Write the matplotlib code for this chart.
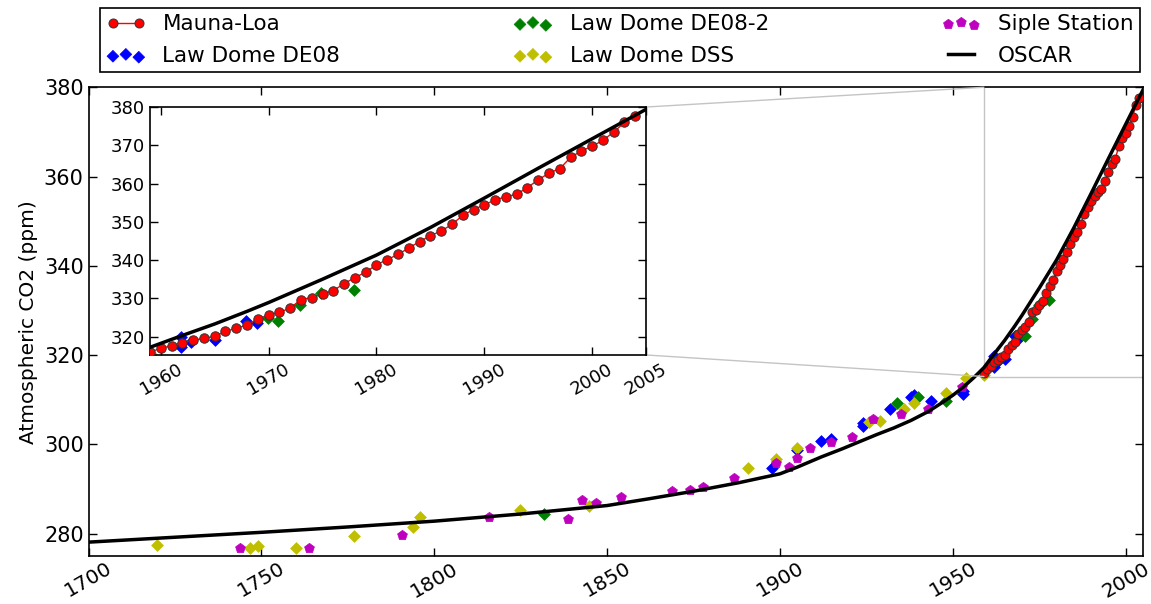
import matplotlib
matplotlib.use("Agg")
import matplotlib.pyplot as plt
from matplotlib.patches import ConnectionPatch
from matplotlib.lines import Line2D

# Mauna-Loa annual means
ml_years = list(range(1959, 2005))
ml_co2 = [315.97, 316.91, 317.64, 318.45, 318.99, 319.62, 320.04, 321.38, 322.16, 323.04,
          324.62, 325.68, 326.32, 327.46, 329.68, 330.19, 331.13, 332.03, 333.84, 335.41,
          336.84, 338.76, 340.12, 341.48, 343.15, 344.85, 346.35, 347.61, 349.31, 351.69,
          353.20, 354.45, 355.70, 356.54, 357.21, 358.96, 360.97, 362.74, 363.88, 366.84,
          368.54, 369.71, 371.32, 373.45, 375.98, 377.70]

# Law Dome DE08
de08_years = [1897.8, 1904.8, 1911.8, 1914.9, 1923.9, 1923.9, 1931.9, 1937.8, 1938.8, 1943.8,
              1953.0, 1953.0, 1961.9, 1961.9, 1962.8, 1965.0, 1967.9, 1968.9]
de08_co2 = [294.7, 298.7, 300.7, 301.3, 304.8, 304.1, 307.9, 310.6, 311.1, 309.7,
            311.2, 311.9, 319.8, 317.3, 318.5, 319.1, 324.2, 323.5]

# Law Dome DE08-2
de082_years = [1831.7, 1933.9, 1939.9, 1947.9, 1969.9, 1970.9, 1972.9, 1974.9, 1977.9]
de082_co2 = [284.5, 309.3, 310.6, 309.7, 324.8, 324.2, 328.2, 331.3, 332.3]

# Law Dome DSS
dss_years = [1719.8, 1746.8, 1749.0, 1759.9, 1776.9, 1793.8, 1795.8, 1824.9, 1844.9, 1890.8,
             1898.9, 1904.8, 1925.8, 1928.9, 1935.8, 1938.8, 1947.9, 1953.8, 1959.1]
dss_co2 = [277.5, 276.9, 277.3, 276.8, 279.5, 281.6, 283.7, 285.2, 286.1, 294.8,
           296.7, 299.1, 305.0, 305.2, 308.0, 309.3, 311.5, 314.8, 315.5]

# Siple Station
siple_years = [1743.9, 1763.7, 1790.8, 1815.8, 1838.7, 1842.8, 1846.8, 1853.9, 1868.8, 1873.9,
               1877.8, 1886.8, 1898.9, 1902.7, 1904.8, 1908.8, 1914.9, 1920.8, 1926.8, 1934.9,
               1942.7, 1952.8]
siple_co2 = [276.9, 276.9, 279.8, 283.7, 283.2, 287.5, 286.9, 288.3, 289.5, 289.7,
             290.4, 292.4, 295.8, 294.9, 296.9, 299.2, 300.5, 301.7, 305.6, 306.7,
             307.9, 312.9]

# OSCAR model
oscar_years = [1700, 1725, 1750, 1775, 1800, 1825, 1850, 1862, 1875, 1888, 1900, 1905,
               1912, 1918, 1923, 1928, 1933, 1938, 1943, 1947, 1950, 1953, 1956,
               1959, 1962, 1965, 1968, 1970, 1975, 1980, 1985, 1990, 1995, 2000, 2005]
oscar_co2 = [278.1, 279.2, 280.3, 281.5, 282.8, 284.4, 286.3, 287.8, 289.5, 291.4, 293.4, 294.9,
             297.2, 299.0, 300.6, 302.2, 303.7, 305.4, 307.4, 309.4, 311.0, 312.8, 314.9,
             317.2, 320.3, 323.3, 326.6, 328.9, 335.0, 341.3, 348.5, 356.2, 364.0, 371.7, 379.4]

fig = plt.figure(figsize=(11.51, 6.04), dpi=100)
ax = fig.add_axes([0.0769, 0.0795, 0.9161, 0.776])
axins = fig.add_axes([0.1303, 0.4123, 0.4310, 0.4105])


def draw(a, ms):
    a.scatter(de08_years, de08_co2, marker='D', s=36, c='b', edgecolors='b', linewidths=0.5, zorder=2)
    a.scatter(de082_years, de082_co2, marker='D', s=36, c='g', edgecolors='g', linewidths=0.5, zorder=2)
    a.scatter(dss_years, dss_co2, marker='D', s=36, c='y', edgecolors='y', linewidths=0.5, zorder=2)
    a.scatter(siple_years, siple_co2, marker='p', s=55, c='m', edgecolors='m', linewidths=0.5, zorder=2)
    a.plot(ml_years, ml_co2, '-o', color='r', lw=1, ms=ms, mfc='r', mec='#333333', mew=0.7, zorder=3)
    a.plot(oscar_years, oscar_co2, '-', color='k', lw=2.5, zorder=4)
    a.tick_params(direction='in', top=True, right=True, length=6, width=1)
    for s in a.spines.values():
        s.set_linewidth(1.2)


draw(ax, 6.5)
draw(axins, 6.8)

ax.set_xlim(1700, 2005)
ax.set_ylim(275, 380)
ax.set_xticks([1700, 1750, 1800, 1850, 1900, 1950, 2000])
ax.set_yticks([280, 300, 320, 340, 360, 380])
ax.tick_params(labelsize=15)
ax.tick_params(axis='x', pad=2, labelsize=14.5)
for lbl in ax.get_xticklabels():
    lbl.set_rotation(30)
ax.set_ylabel('Atmospheric CO2 (ppm)', fontsize=14.5)

axins.set_xlim(1959, 2005)
axins.set_ylim(315.2, 380)
axins.set_xticks([1960, 1970, 1980, 1990, 2000, 2005])
axins.set_yticks([320, 330, 340, 350, 360, 370, 380])
axins.tick_params(labelsize=13)
for lbl in axins.get_xticklabels():
    lbl.set_rotation(30)

# zoom box and connectors
gray = '#c4c4c4'
ax.plot([1959, 1959, 2005], [380, 315.2, 315.2], color=gray, lw=1, zorder=1)
for yi, yd in [(1, 380), (0, 315.2)]:
    con = ConnectionPatch(xyA=(1, yi), coordsA=axins.transAxes,
                          xyB=(1959, yd), coordsB=ax.transData,
                          color=gray, lw=1, zorder=0.5)
    fig.add_artist(con)
axins.set_zorder(5)

# legend
h_ml = Line2D([], [], color='r', marker='o', ms=6.5, mfc='r', mec='#333333', mew=0.7, lw=1)
h_osc = Line2D([], [], color='k', lw=2.5)
leg = fig.legend([h_ml, ax.collections[0], ax.collections[1], ax.collections[2],
                  ax.collections[3], h_osc],
                 ['Mauna-Loa', 'Law Dome DE08', 'Law Dome DE08-2', 'Law Dome DSS',
                  'Siple Station', 'OSCAR'],
                 ncol=3, mode='expand', loc='center',
                 bbox_to_anchor=(0.0869, 0.8808, 0.9036, 0.106),
                 fontsize=15.5, scatterpoints=3, numpoints=2, fancybox=False,
                 edgecolor='k', framealpha=1, handlelength=1.8, handletextpad=0.8,
                 borderaxespad=0, labelspacing=0.55, borderpad=0.3)
leg.get_frame().set_linewidth(1.2)

fig.savefig('out.png', dpi=100)
